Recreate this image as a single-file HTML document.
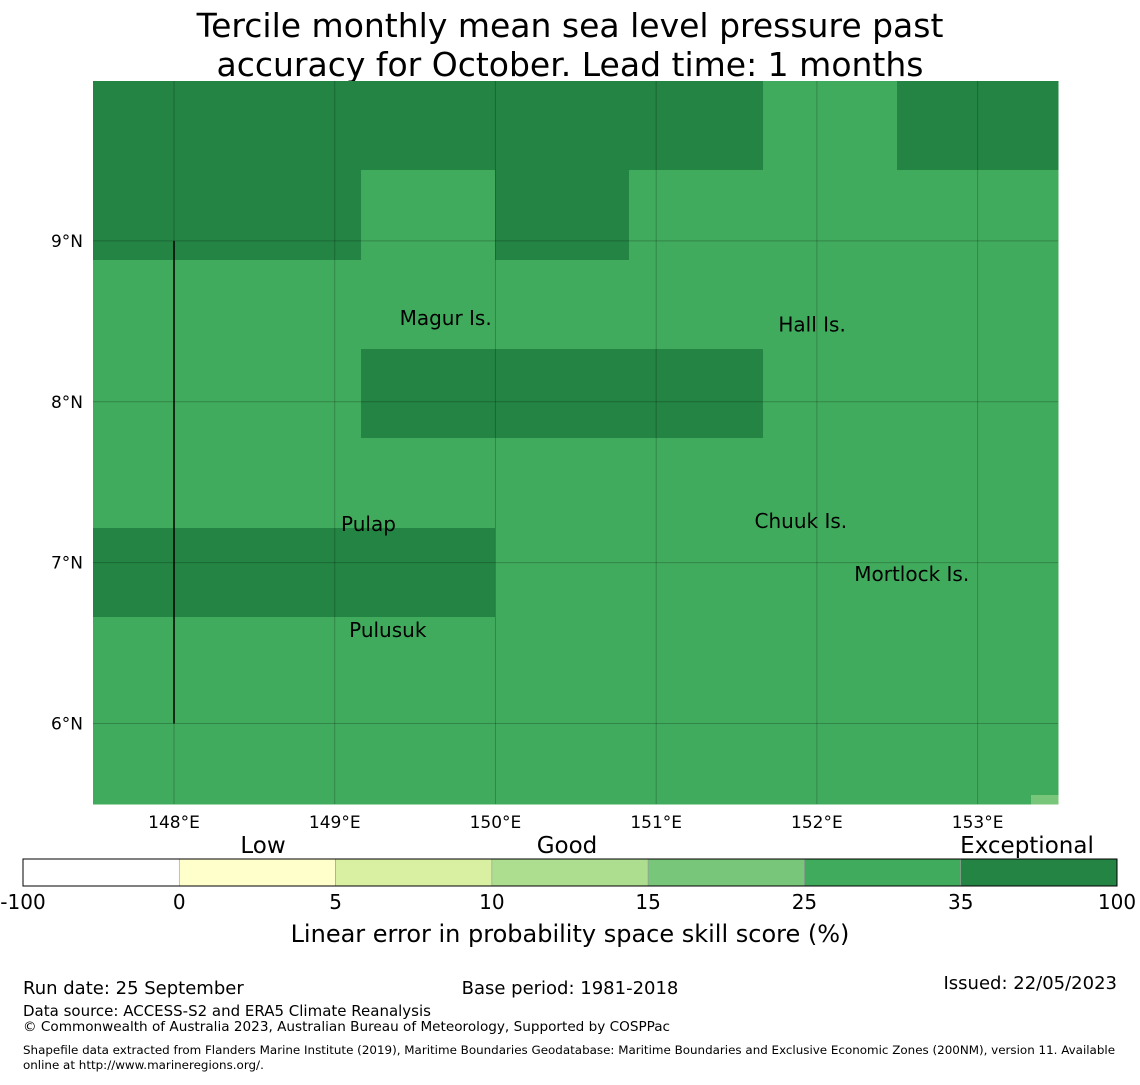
<!DOCTYPE html>
<html><head><meta charset="utf-8"><style>
body{margin:0;background:#fff;font-family:"Liberation Sans","DejaVu Sans",sans-serif;}
svg text{font-family:"DejaVu Sans","Liberation Sans",sans-serif;}
</style></head><body>
<svg id="c" width="1140" height="1080" xmlns="http://www.w3.org/2000/svg">
<text x="570" y="37" font-size="33" text-anchor="middle">Tercile monthly mean sea level pressure past</text>
<text x="570" y="76" font-size="33" text-anchor="middle">accuracy for October. Lead time: 1 months</text>
<g id="map"></g>
<g id="cb"></g>
<text x="570" y="942" font-size="24" text-anchor="middle">Linear error in probability space skill score (%)</text>
<text x="23" y="994" font-size="18">Run date: 25 September</text>
<text x="570" y="994" font-size="18" text-anchor="middle">Base period: 1981-2018</text>
<text x="1117" y="989" font-size="18" text-anchor="end">Issued: 22/05/2023</text>
<text x="23" y="1016" font-size="15">Data source: ACCESS-S2 and ERA5 Climate Reanalysis</text>
<text x="23" y="1031" font-size="13.6">© Commonwealth of Australia 2023, Australian Bureau of Meteorology, Supported by COSPPac</text>
<text x="23" y="1054" font-size="11.9">Shapefile data extracted from Flanders Marine Institute (2019), Maritime Boundaries Geodatabase: Maritime Boundaries and Exclusive Economic Zones (200NM), version 11. Available</text>
<text x="23" y="1069" font-size="11.9">online at http://www.marineregions.org/.</text>
</svg>
<script>
const lonTicks=[148,149,150,151,152,153];
const latTicks=[9,8,7,6];
const binLabels=["-100","0","5","10","15","25","35","100"];
const binColors=["#ffffff","#ffffcc","#d9f0a3","#addd8e","#78c679","#41ab5d","#238443"];
// grid of colour-bin indices, rows top->bottom, cols left->right
const gridRows=[
[6,6,6,6,6,5,6,6],
[6,6,5,6,5,5,5,5],
[5,5,5,5,5,5,5,5],
[5,5,6,6,6,5,5,5],
[5,5,5,5,5,5,5,5],
[6,6,6,5,5,5,5,5],
[5,5,5,5,5,5,5,5],
[5,5,5,5,5,5,5,5],
[5,5,5,5,5,5,5,4]];
const islands=[["Magur Is.",149.69,8.52],["Hall Is.",151.97,8.48],["Pulap",149.21,7.24],["Chuuk Is.",151.9,7.26],["Mortlock Is.",152.59,6.93],["Pulusuk",149.33,6.58]];
const NS="http://www.w3.org/2000/svg";
const X0=93,X1=1058,Y0=81,Y1=804,lonMin=147.496,lonMax=153.5,latMax=9.994,latMin=5.5;
const xs=l=>X0+(l-lonMin)/(lonMax-lonMin)*(X1-X0);
const ys=l=>Y0+(latMax-l)/(latMax-latMin)*(Y1-Y0);
function mk(t,a,p){const e=document.createElementNS(NS,t);for(const k in a)e.setAttribute(k,a[k]);p.appendChild(e);return e;}
const map=document.getElementById('map');
const CW=134,CH=89.3;
gridRows.forEach((row,r)=>row.forEach((v,c)=>{
 const xa=X0+CW*c, xb=Math.min(X1,X0+CW*(c+1));
 const ya=Math.round(Y0+CH*r), yb=Math.min(Y1,Math.round(Y0+CH*(r+1)));
 if(xb<=xa||yb<=ya) return;
 const e=mk('rect',{x:xa,y:ya,width:xb-xa+0.5,height:yb-ya+0.5,fill:binColors[v],'shape-rendering':'crispEdges'},map);
 
 
}));
lonTicks.forEach(l=>{const x=xs(l);
 const g=mk('line',{x1:x,x2:x,y1:Y0,y2:Y1,stroke:'#000','stroke-opacity':0.22,'stroke-width':1},map);
 
 const t=mk('text',{x:x,y:828,'font-size':17,'text-anchor':'middle'},map);t.textContent=l+'°E';
 });
latTicks.forEach(l=>{const y=ys(l);
 const g=mk('line',{x1:X0,x2:X1,y1:y,y2:y,stroke:'#000','stroke-opacity':0.22,'stroke-width':1},map);
 
 const t=mk('text',{x:83,y:y+6,'font-size':17,'text-anchor':'end'},map);t.textContent=l+'°N';
 });
const vl=mk('line',{x1:xs(148),x2:xs(148),y1:ys(9),y2:ys(6),stroke:'#000','stroke-width':1.5},map);

islands.forEach(d=>{const t=mk('text',{x:xs(d[1]),y:ys(d[2])+7,'font-size':20,'text-anchor':'middle'},map);t.textContent=d[0];
 });
const cb=document.getElementById('cb');
const cbX0=23,cbX1=1117,n=binColors.length,sw=(cbX1-cbX0)/n;
binColors.forEach((c,i)=>{const e=mk('rect',{x:cbX0+i*sw,y:859,width:sw,height:27,fill:c,stroke:'#999','stroke-width':0.6},cb);
 });
mk('rect',{x:cbX0,y:859,width:cbX1-cbX0,height:27,fill:'none',stroke:'#000','stroke-width':1},cb);
binLabels.forEach((l,i)=>{const t=mk('text',{x:cbX0+i*sw,y:909,'font-size':20,'text-anchor':'middle'},cb);t.textContent=l;
 });
[["Low",263],["Good",567],["Exceptional",1027]].forEach(d=>{const t=mk('text',{x:d[1],y:853,'font-size':23,'text-anchor':'middle'},cb);t.textContent=d[0];
 });
</script>
</body></html>
